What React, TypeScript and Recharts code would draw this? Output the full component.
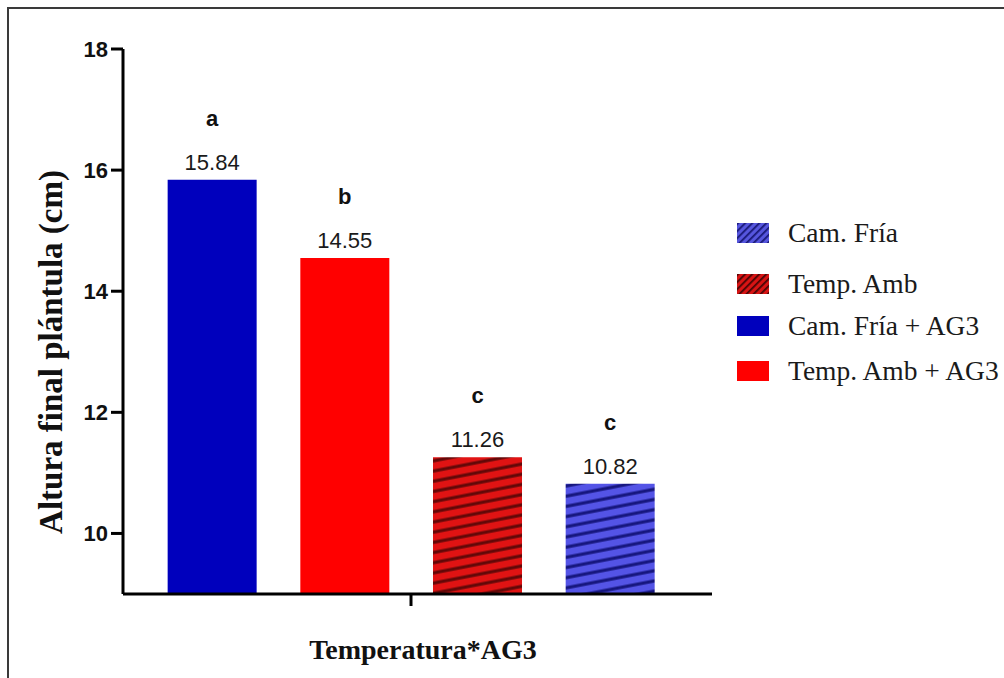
import { BarChart, Bar, XAxis, YAxis, Cell, LabelList, Label, Legend } from 'recharts';

const categories = ['Cam. Fría + AG3', 'Temp. Amb + AG3', 'Temp. Amb', 'Cam. Fría'];
const heights = [15.84, 14.55, 11.26, 10.82];
const letters = ['a', 'b', 'c', 'c'];
const yTicks = [10, 12, 14, 16, 18];
const legendNames = ['Cam. Fría', 'Temp. Amb', 'Cam. Fría + AG3', 'Temp. Amb + AG3'];

const barFills = ['#0000bd', '#ff0000', 'url(#hatchRed)', 'url(#hatchBlue)'];
const legendFills = ['url(#legHatchBlue)', 'url(#legHatchRed)', '#0000bd', '#ff0000'];
const legendRowTops = [0, 51, 93, 138];

const data = categories.map((name, i) => ({ name, value: heights[i], letter: letters[i] }));

const sans = '"Liberation Sans", Arial, sans-serif';
const serif = '"Liberation Serif", "Times New Roman", serif';

const LegendBox = () => (
  <div style={{ position: 'relative', width: 267, height: 170 }}>
    {legendNames.map((name, i) => (
      <div
        key={name}
        style={{ position: 'absolute', left: 0, top: legendRowTops[i], display: 'flex', alignItems: 'center', height: 40 }}
      >
        <svg width={32} height={20} style={{ display: 'block' }}>
          <defs>
            <pattern id="legHatchBlue" width="5" height="5" patternUnits="userSpaceOnUse" patternTransform="rotate(-45)">
              <rect width="5" height="5" fill="#5656de" />
              <rect y="0" width="5" height="1.8" fill="#1a1a7a" />
            </pattern>
            <pattern id="legHatchRed" width="5" height="5" patternUnits="userSpaceOnUse" patternTransform="rotate(-45)">
              <rect width="5" height="5" fill="#d81414" />
              <rect y="0" width="5" height="1.8" fill="#4a0606" />
            </pattern>
          </defs>
          <rect width={32} height={20} fill={legendFills[i]} />
        </svg>
        <span style={{ marginLeft: 19, fontFamily: serif, fontSize: 27.5, color: '#1a1a1a', whiteSpace: 'nowrap' }}>
          {name}
        </span>
      </div>
    ))}
  </div>
);

export default function App() {
  return (
    <div style={{ position: 'absolute', left: 0, top: 0, width: 1004, height: 678, background: '#fff', overflow: 'hidden' }}>
      <div
        style={{
          position: 'absolute',
          left: 7,
          top: 7,
          width: 997,
          height: 671,
          borderTop: '2px solid #3a3a3a',
          borderLeft: '2px solid #3a3a3a',
          boxSizing: 'border-box',
        }}
      />
      <div style={{ position: 'absolute', left: 0, top: 0 }}>
        <BarChart width={1004} height={678} data={data} margin={{ top: 49, right: 292, left: 0, bottom: 54 }}>
          <defs>
            <pattern id="hatchRed" width="10" height="10" patternUnits="userSpaceOnUse" patternTransform="rotate(-11)">
              <rect width="10" height="10" fill="#e01313" />
              <rect y="3.5" width="10" height="3.2" fill="#620808" />
            </pattern>
            <pattern id="hatchBlue" width="10" height="10" patternUnits="userSpaceOnUse" patternTransform="rotate(-11)">
              <rect width="10" height="10" fill="#5454e6" />
              <rect y="3.5" width="10" height="3.2" fill="#16167e" />
            </pattern>
          </defs>
          <XAxis xAxisId={0} dataKey="name" hide height={0} padding={{ left: 22.65, right: 35.65 }} />
          {/* numeric twin axis: draws the baseline and the single centred tick */}
          <XAxis
            xAxisId="mid"
            type="number"
            domain={[0, 3]}
            ticks={[1.5]}
            allowDataOverflow
            tick={() => <g />}
            height={30}
            padding={{ left: 22.65, right: 35.65 }}
            axisLine={{ stroke: '#000', strokeWidth: 3 }}
            tickLine={{ stroke: '#000', strokeWidth: 3 }}
            tickSize={12}
          />
          <YAxis
            width={123}
            domain={[9, 18]}
            ticks={yTicks}
            interval={0}
            allowDataOverflow
            axisLine={{ stroke: '#000', strokeWidth: 3 }}
            tickLine={{ stroke: '#000', strokeWidth: 3 }}
            tickSize={12}
            tickMargin={3}
            tick={{ fill: '#111', fontSize: 22, fontWeight: 'bold', fontFamily: sans }}
          >
            <Label
              content={() => (
                <text
                  x={51}
                  y={352}
                  transform="rotate(-90 51 352)"
                  textAnchor="middle"
                  dominantBaseline="central"
                  fontFamily={serif}
                  fontWeight="bold"
                  fontSize={33}
                  fill="#111"
                >
                  Altura final plántula (cm)
                </text>
              )}
            />
          </YAxis>
          <Legend
            layout="horizontal"
            verticalAlign="middle"
            align="center"
            content={() => <LegendBox />}
            wrapperStyle={{ left: 737, top: 213, width: 267, height: 180 }}
          />
          <Bar dataKey="value" barSize={89} isAnimationActive={false}>
            {data.map((d, i) => (
              <Cell key={d.name} fill={barFills[i]} />
            ))}
            <LabelList dataKey="value" position="top" offset={10} fill="#1a1a1a" fontSize={22} fontFamily={sans} />
            <LabelList
              dataKey="letter"
              position="top"
              offset={54}
              fill="#111"
              fontSize={22}
              fontWeight="bold"
              fontFamily={sans}
            />
          </Bar>
          <text
            x={423}
            y={659}
            textAnchor="middle"
            fontFamily={serif}
            fontWeight="bold"
            fontSize={28}
            fill="#111"
          >
            Temperatura*AG3
          </text>
        </BarChart>
      </div>
    </div>
  );
}
